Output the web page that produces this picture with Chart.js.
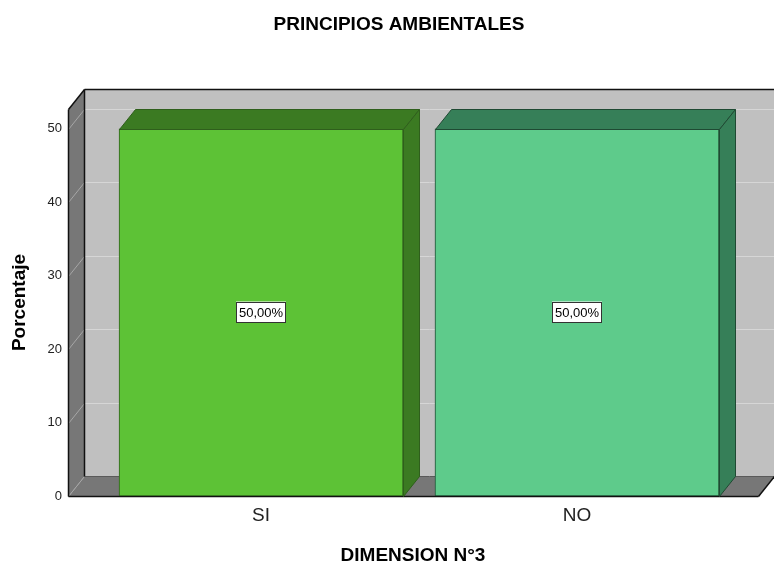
<!DOCTYPE html>
<html>
<head>
<meta charset="utf-8">
<script src="https://cdn.jsdelivr.net/npm/chart.js@4.4.0/dist/chart.umd.min.js"></script>
<style>
  body { margin: 0; background: #fff; }
  #wrap { width: 774px; height: 563px; }
</style>
</head>
<body>
<div id="wrap"><canvas id="bar_graph"></canvas></div>
<script>
// data
var categories = ["SI", "NO"];
var percents = [50, 50];
var yTicks = [0, 10, 20, 30, 40, 50];

var FONT = "'Liberation Sans', Arial, sans-serif";
var DX = 16, DY = 20; // depth of the 3d box

function poly(c, pts, fill, stroke) {
  c.beginPath();
  c.moveTo(pts[0][0], pts[0][1]);
  for (var i = 1; i < pts.length; i++) c.lineTo(pts[i][0], pts[i][1]);
  c.closePath();
  if (fill) { c.fillStyle = fill; c.fill(); }
  if (stroke) { c.strokeStyle = stroke; c.lineWidth = 1; c.stroke(); }
}
function seg(c, x1, y1, x2, y2, col, w) {
  c.beginPath();
  c.moveTo(x1, y1);
  c.lineTo(x2, y2);
  c.strokeStyle = col;
  c.lineWidth = w || 1;
  c.stroke();
}

// draws walls, floor and the 3d faces of the bars
var box3d = {
  id: 'box3d',
  afterLayout: function(chart) {
    // the original title sits a bit right of the canvas centre
    chart.titleBlock.left = 24;
    chart.titleBlock.right = 774;
  },
  beforeDatasetsDraw: function(chart) {
    var c = chart.ctx, a = chart.chartArea, ys = chart.scales.y;
    var L = Math.round(a.left) + 0.5, R = Math.round(a.right) + 0.5;
    var T = Math.round(a.top) + 0.5, B = Math.round(a.bottom) + 0.5;
    c.save();
    c.fillStyle = '#c0c0c0';
    c.fillRect(L + DX, T - DY, R - L, B - T);
    poly(c, [[L, B], [L, T], [L + DX, T - DY], [L + DX, B - DY]], '#777777');
    poly(c, [[L, B], [L + DX, B - DY], [R + DX, B - DY], [R, B]], '#777777');
    yTicks.forEach(function(v) {
      var py = Math.round(ys.getPixelForValue(v)) + 0.5;
      if (v > 0) seg(c, L + DX, py - DY, R + DX, py - DY, '#d6d6d6');
      seg(c, L, py, L + DX, py - DY, '#a6a6a6');
    });
    seg(c, L + DX, B - DY, R + DX, B - DY, '#5a5a5a');
    seg(c, L + DX, T - DY, L + DX, B - DY, '#111', 1.5);
    seg(c, L, B, L, T, '#111', 1.5);
    seg(c, L, T, L + DX, T - DY, '#111', 1.5);
    seg(c, L + DX, T - DY, R + DX, T - DY, '#111', 1.5);
    seg(c, L, B, R, B, '#111', 1.5);
    seg(c, R, B, R + DX, B - DY, '#111', 1.5);
    c.restore();
  },
  afterDatasetsDraw: function(chart) {
    var c = chart.ctx;
    var ds = chart.data.datasets[0];
    var meta = chart.getDatasetMeta(0);
    c.save();
    meta.data.forEach(function(bar, i) {
      var x0 = Math.round(bar.x - bar.width / 2) + 0.5;
      var x1 = Math.round(bar.x + bar.width / 2) + 0.5;
      var top = Math.round(bar.y) + 0.5, base = Math.round(bar.base) + 0.5;
      var shade = ds.shadeColor[i], edge = ds.borderColor[i];
      poly(c, [[x0, top], [x0 + DX, top - DY], [x1 + DX, top - DY], [x1, top]], shade, edge);
      poly(c, [[x1, top], [x1 + DX, top - DY], [x1 + DX, base - DY], [x1, base]], shade, edge);
      // value label
      var txt = percents[i].toFixed(2).replace('.', ',') + '%';
      c.font = '13px ' + FONT;
      var w = Math.round(c.measureText(txt).width) + 6, h = 21;
      var cx = Math.round(bar.x), cy = Math.round((bar.y + bar.base) / 2);
      c.fillStyle = '#fff';
      c.fillRect(cx - w / 2, cy - h / 2, w, h);
      c.strokeStyle = '#333';
      c.lineWidth = 1;
      c.strokeRect(Math.round(cx - w / 2) + 0.5, Math.round(cy - h / 2) + 0.5, w - 1, h - 1);
      c.fillStyle = '#000';
      c.textAlign = 'center';
      c.textBaseline = 'middle';
      c.fillText(txt, cx, cy + 1);
    });
    c.restore();
  }
};

var ctx = document.getElementById('bar_graph');

var data = {
  datasets: [
    {
      data: categories.map(function(c, i) { return { x: i + 1, y: percents[i] }; }),
      backgroundColor: ["#5dc236", "#5ecb8b"],
      shadeColor: ["#3b7a22", "#367f58"],
      borderColor: ["#2f5f1c", "#1f4a33"],
      borderWidth: 1,
      borderSkipped: false,
      barThickness: 284
    }
  ]
};

var options = {
  responsive: true,
  maintainAspectRatio: false,
  animation: false,
  layout: { padding: { left: 0, right: 16, top: 0, bottom: 0 } },
  plugins: {
    legend: { display: false },
    tooltip: { enabled: false },
    title: {
      display: true,
      text: 'PRINCIPIOS AMBIENTALES',
      color: '#000',
      font: { family: FONT, size: 19, weight: 'bold' },
      padding: { top: 13.5, bottom: 72.7 }
    }
  },
  scales: {
    x: {
      type: 'linear',
      offset: false,
      min: 0.389,
      max: 2.573,
      afterBuildTicks: function(s) {
        s.ticks = categories.map(function(c, i) { return { value: i + 1 }; });
      },
      ticks: {
        callback: function(v) { return categories[v - 1]; },
        autoSkip: false,
        maxRotation: 0,
        color: '#222',
        padding: 8,
        font: { family: FONT, size: 19 }
      },
      grid: { display: false, drawTicks: false },
      border: { display: false },
      title: {
        display: true,
        text: 'DIMENSION N°3',
        color: '#000',
        padding: -4,
        font: { family: FONT, size: 19, weight: 'bold' }
      },
      afterFit: function(s) { s.height = 67; }
    },
    y: {
      min: 0,
      max: 52.7,
      afterBuildTicks: function(s) {
        s.ticks = yTicks.map(function(v) { return { value: v }; });
      },
      ticks: {
        color: '#222',
        padding: 6,
        font: { family: FONT, size: 13 }
      },
      grid: { display: false, drawTicks: false },
      border: { display: false },
      title: {
        display: true,
        text: 'Porcentaje',
        color: '#000',
        padding: { top: 8, bottom: 0 },
        font: { family: FONT, size: 19, weight: 'bold' }
      },
      afterFit: function(s) { s.width = 68; }
    }
  }
};

var chart = new Chart(ctx, {
  type: 'bar',
  data: data,
  options: options,
  plugins: [box3d]
});
</script>
</body>
</html>
